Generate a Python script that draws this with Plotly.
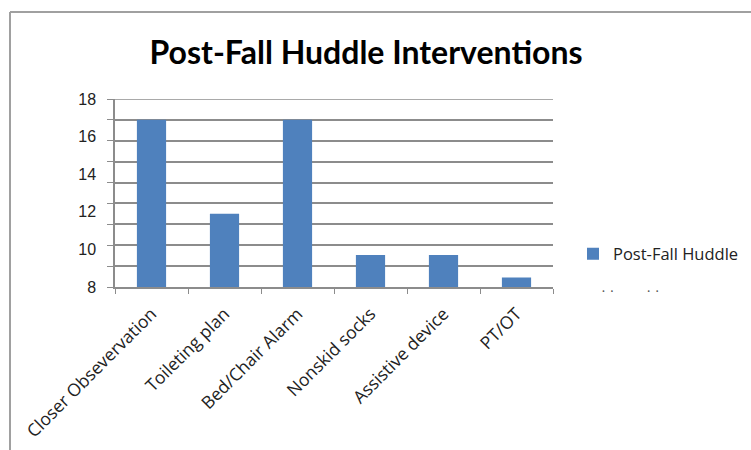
import plotly.graph_objects as go

# Chart data
categories = ["Closer Obsevervation", "Toileting plan", "Bed/Chair Alarm",
              "Nonskid socks", "Assistive device", "PT/OT"]
values = [16.9, 11.9, 16.9, 9.7, 9.7, 8.5]
series_name = "Post-Fall Huddle"
y_tick_vals = [8, 10, 12, 14, 16, 18]
y_tick_text = ["8", "10", "12", "14", "16", "18"]

BAR = "#4F81BD"
GRID = "#8C8C8C"
FONT = "Lato, 'Open Sans', sans-serif"
LABEL_FONT = "'Open Sans', Lato, sans-serif"

W, H = 751, 450
L, R, T, B = 115, 198, 99, 163
pw, ph = W - L - R, H - T - B

fig = go.Figure()
fig.add_trace(go.Bar(
    x=categories, y=values, name=series_name,
    marker=dict(color=BAR, line=dict(width=0)),
    showlegend=True,
))

fig.update_layout(
    width=W, height=H,
    margin=dict(l=L, r=R, t=T, b=B, autoexpand=False),
    paper_bgcolor="white", plot_bgcolor="white",
    bargap=0.6,
    font=dict(family=FONT, size=16, color="#222222"),
    title=dict(text="<b>Post-Fall Huddle Interventions</b>",
               x=366 / W, xanchor="center",
               y=1 - 53 / H, yanchor="middle",
               font=dict(family=FONT, size=32, color="black")),
    legend=dict(x=(573 - L) / pw, xanchor="left",
                y=(H - B - 254) / ph, yanchor="middle",
                font=dict(family=LABEL_FONT, size=16.5, color="#222222"),
                bgcolor="rgba(0,0,0,0)", itemwidth=30,
                tracegroupgap=0),
    showlegend=True,
)

fig.update_xaxes(
    type="category",
    tickangle=-45,
    tickson="boundaries",
    ticks="outside", ticklen=5, tickcolor=GRID,
    showline=True, linecolor=GRID, linewidth=1.5,
    showgrid=False,
    ticklabelstandoff=8,
    tickfont=dict(family=LABEL_FONT, size=17.5, color="#222222"),
)

fig.update_yaxes(
    range=[8, 18],
    tickvals=y_tick_vals, ticktext=y_tick_text,
    ticks="", showgrid=False,
    showline=True, linecolor=GRID, linewidth=1.5,
    zeroline=False,
    ticklabelstandoff=14,
    tickfont=dict(family="'Liberation Sans', Arial, sans-serif", size=16, color="#222222"),
    minor=dict(tick0=8, dtick=10 / 9, showgrid=True, gridcolor=GRID, gridwidth=1.5,
               ticks="outside", ticklen=6, tickcolor=GRID),
)

# Top gridline at the axis maximum
fig.add_shape(type="line", xref="paper", yref="y", x0=-6 / pw, x1=1, y0=18, y1=18,
              line=dict(color=GRID, width=1.5), layer="below")

# Chart-area frame (top and left edges)
fx = (10 - L) / pw
fy = (H - B - 12) / ph
fig.add_shape(type="line", xref="paper", yref="paper", x0=fx, x1=(W + 5 - L) / pw,
              y0=fy, y1=fy, line=dict(color="#A0A0A0", width=2))
fig.add_shape(type="line", xref="paper", yref="paper", x0=fx, x1=fx,
              y0=fy, y1=(H - B - H - 5) / ph, line=dict(color="#A0A0A0", width=2))

# Clipped second legend row
fig.add_annotation(xref="paper", yref="paper", x=(600 - L) / pw, y=(H - B - 290) / ph,
                   xanchor="left", yanchor="middle", showarrow=False,
                   text="·  ·            ·  ·", font=dict(size=11, color="#555555"))

fig.write_html("out.html")
